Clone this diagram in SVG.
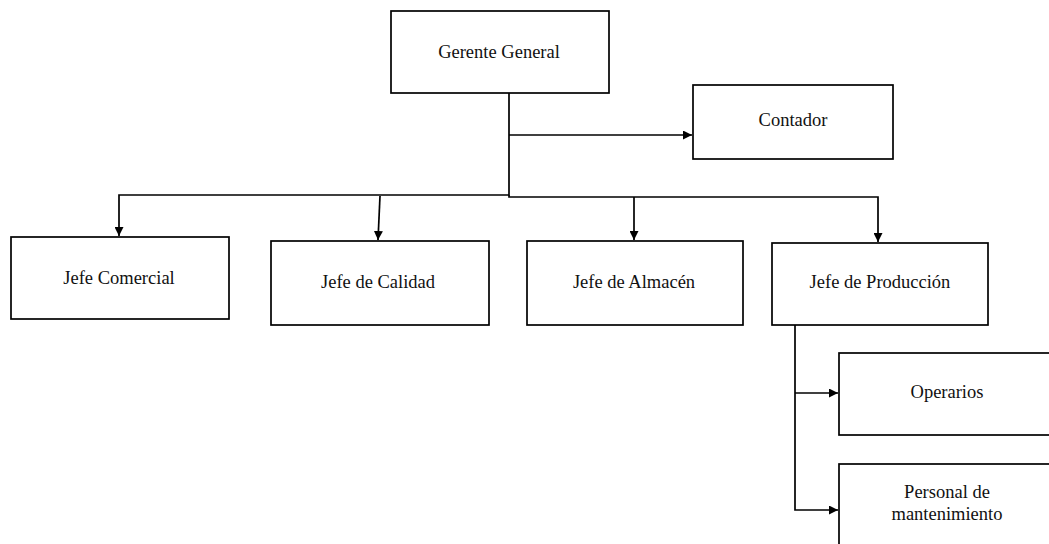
<svg xmlns="http://www.w3.org/2000/svg" width="1049" height="544" viewBox="0 0 1049 544">
<style>
.box{fill:#fff;stroke:#000;stroke-width:1.7}
.t{font-family:"Liberation Serif","Times New Roman",serif;font-size:18.5px;fill:#111;text-anchor:middle}
.c{fill:none;stroke:#000;stroke-width:1.7}
</style>
<defs>
<marker id="ah" viewBox="0 0 10 10" refX="10" refY="5" markerWidth="9" markerHeight="9" markerUnits="userSpaceOnUse" orient="auto">
<path d="M0,0 L10,5 L0,10 Z" fill="#000"/>
</marker>
</defs>
<rect width="1049" height="544" fill="#fff"/>
<g id="connectors">
<path class="c" d="M509,93 V195 H119 V236" marker-end="url(#ah)"/>
<path class="c" d="M509,135 H692" marker-end="url(#ah)"/>
<path class="c" d="M509,195 V197 H878 V242" marker-end="url(#ah)"/>
<path class="c" d="M380,196 L378,240" marker-end="url(#ah)"/>
<path class="c" d="M634,197 V240" marker-end="url(#ah)"/>
<path class="c" d="M795,325 V510 H838" marker-end="url(#ah)"/>
<path class="c" d="M795,393 H838" marker-end="url(#ah)"/>
</g>
<g id="gerente">
<rect class="box" x="391" y="11" width="218" height="82"/>
<text class="t" x="499" y="58">Gerente General</text>
</g>
<g id="contador">
<rect class="box" x="693" y="85" width="200" height="74"/>
<text class="t" x="793" y="126">Contador</text>
</g>
<g id="jefe-comercial">
<rect class="box" x="11" y="237" width="218" height="82"/>
<text class="t" x="119" y="284">Jefe Comercial</text>
</g>
<g id="jefe-calidad">
<rect class="box" x="271" y="241" width="218" height="84"/>
<text class="t" x="378" y="288">Jefe de Calidad</text>
</g>
<g id="jefe-almacen">
<rect class="box" x="527" y="241" width="216" height="84"/>
<text class="t" x="634" y="288">Jefe de Almacén</text>
</g>
<g id="jefe-produccion">
<rect class="box" x="772" y="243" width="216" height="82"/>
<text class="t" x="880" y="288">Jefe de Producción</text>
</g>
<g id="operarios">
<rect class="box" x="839" y="353" width="218" height="82"/>
<text class="t" x="947" y="398">Operarios</text>
</g>
<g id="personal">
<rect class="box" x="839" y="464" width="218" height="90"/>
<text class="t" x="947" y="498">Personal de</text>
<text class="t" x="947" y="520">mantenimiento</text>
</g>
</svg>
